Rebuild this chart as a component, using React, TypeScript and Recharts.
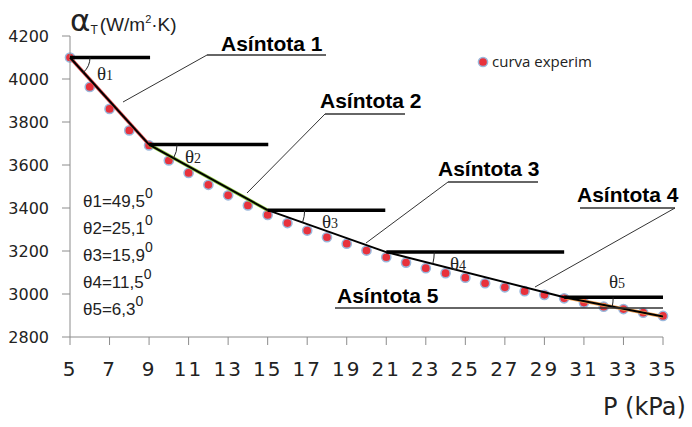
import React from 'react';
import {
  ComposedChart,
  Scatter,
  XAxis,
  YAxis,
  ReferenceLine,
  ReferenceDot,
} from 'recharts';

// pressure P (kPa) and measured heat-transfer coefficient
const pressure = [5, 6, 7, 8, 9, 10, 11, 12, 13, 14, 15, 16, 17, 18, 19, 20, 21, 22, 23, 24, 25, 26, 27, 28, 29, 30, 31, 32, 33, 34, 35];
const alphaT = [4100, 3963, 3861, 3761, 3691, 3621, 3563, 3508, 3459, 3412, 3368, 3330, 3295, 3264, 3234, 3202, 3171, 3146, 3120, 3097, 3076, 3050, 3031, 3013, 2996, 2980, 2960, 2941, 2930, 2913, 2898];

// asymptote break points and their horizontal references
const vertexP = [5, 9, 15, 21, 30, 35];
const vertexA = [4100, 3695, 3390, 3195, 2985, 2895];
const horizEnd = [9.05, 15.03, 20.95, 30, 35];
const thetaValues = ['49,5', '25,1', '15,9', '11,5', '6,3'];

const xTicks = [5, 7, 9, 11, 13, 15, 17, 19, 21, 23, 25, 27, 29, 31, 33, 35];
const yTicks = [2800, 3000, 3200, 3400, 3600, 3800, 4000, 4200];

const W = 692;
const H = 427;
const PLOT_W = 593;
const PLOT_H = 301;
const PX_X = PLOT_W / 30;
const PX_Y = PLOT_H / 1400;
const AXIS = '#8c8c8c';
const arcRadius = [20, 28, 37, 48, 49];
const tint = ['#e05050', '#8cc63f', null, null, '#f0a050'];

const points = pressure.map((p, i) => ({ p, a: alphaT[i] }));

const Marker = (props: any) => (
  <circle cx={props.cx} cy={props.cy} r={4.6} fill="#e8323c" stroke="#9ab8dc" strokeWidth={1.5} />
);

const makeArc = (i: number) => (props: any) => {
  const { cx, cy } = props;
  const dx = (vertexP[i + 1] - vertexP[i]) * PX_X;
  const dy = (vertexA[i] - vertexA[i + 1]) * PX_Y;
  const ang = Math.atan2(dy, dx);
  const r = arcRadius[i];
  const x2 = cx + r * Math.cos(ang);
  const y2 = cy + r * Math.sin(ang);
  return <path d={`M${cx + r},${cy} A${r},${r} 0 0 1 ${x2},${y2}`} fill="none" stroke="#222" strokeWidth={1} />;
};

const labels = [
  { t: 'Asíntota 1', x: 221, y: 51 },
  { t: 'Asíntota 2', x: 320, y: 108 },
  { t: 'Asíntota 3', x: 438, y: 176 },
  { t: 'Asíntota 4', x: 577, y: 202 },
  { t: 'Asíntota 5', x: 337, y: 303 },
];

const leaders = [
  [207, 55, 326, 55], [207, 55, 123, 102],
  [325, 114, 405, 114], [325, 114, 247, 193],
  [448, 182, 538, 182], [448, 182, 366, 243],
  [580, 208, 675, 208], [675, 208, 535, 287],
  [335, 308, 663, 308],
];

const thetaMarks = [
  { x: 97, y: 80 }, { x: 185, y: 163 }, { x: 322, y: 228 }, { x: 450, y: 270 }, { x: 609, y: 288 },
];

export default function App() {
  return (
    <div style={{ position: 'absolute', left: 0, top: 0, width: W, height: H, background: '#fff' }}>
      <ComposedChart width={W} height={H} data={points} margin={{ top: 36, right: 29, bottom: 0, left: 0 }}>
        <XAxis
          dataKey="p"
          type="number"
          domain={[5, 35]}
          ticks={xTicks}
          interval={0}
          height={90}
          stroke={AXIS}
          tickSize={8}
          tickMargin={17}
          tick={{ fill: '#222', fontSize: 20, fontFamily: 'DejaVu Sans', letterSpacing: 2 }}
        />
        <YAxis
          dataKey="a"
          type="number"
          domain={[2800, 4200]}
          ticks={yTicks}
          interval={0}
          width={70}
          stroke={AXIS}
          tickSize={8}
          tickMargin={13}
          tick={{ fill: '#222', fontSize: 16, fontFamily: 'DejaVu Sans' }}
        />
        <Scatter dataKey="a" fill="#e8323c" shape={<Marker />} isAnimationActive={false} zIndex={100} />
        {vertexP.slice(0, 5).map((p, i) =>
          tint[i] ? (
            <ReferenceLine
              key={`tint-${i}`}
              segment={[{ x: p, y: vertexA[i] }, { x: vertexP[i + 1], y: vertexA[i + 1] }]}
              stroke={tint[i] as string}
              strokeWidth={3.4}
              zIndex={900}
            />
          ) : null
        )}
        {vertexP.slice(0, 5).map((p, i) => (
          <ReferenceLine
            key={`slope-${i}`}
            segment={[{ x: p, y: vertexA[i] }, { x: vertexP[i + 1], y: vertexA[i + 1] }]}
            stroke="#000"
            strokeWidth={2}
            zIndex={950}
          />
        ))}
        {vertexP.slice(0, 5).map((p, i) => (
          <ReferenceLine
            key={`horiz-${i}`}
            segment={[{ x: p, y: vertexA[i] }, { x: horizEnd[i], y: vertexA[i] }]}
            stroke="#000"
            strokeWidth={3.5}
            zIndex={960}
          />
        ))}
        {vertexP.slice(0, 5).map((p, i) => (
          <ReferenceDot key={`arc-${i}`} x={p} y={vertexA[i]} r={0} shape={makeArc(i)} zIndex={970} />
        ))}
      </ComposedChart>

      <svg width={W} height={H} style={{ position: 'absolute', left: 0, top: 0, pointerEvents: 'none' }}>
        {/* y axis title */}
        <text x={70} y={31} fill="#222">
          <tspan fontFamily="DejaVu Sans" fontSize={31}>α</tspan>
          <tspan fontFamily="Liberation Sans" fontSize={12} dy={3}>T</tspan>
          <tspan fontFamily="Liberation Sans" fontSize={19} dy={-3} dx={2}>(W/m</tspan>
          <tspan fontFamily="Liberation Sans" fontSize={11} dy={-8}>2</tspan>
          <tspan fontFamily="Liberation Sans" fontSize={19} dy={8}>·K)</tspan>
        </text>
        <text x={603} y={415} fontFamily="DejaVu Sans" fontSize={24} fill="#222">P (kPa)</text>

        {/* legend */}
        <circle cx={483} cy={62} r={4.6} fill="#e8323c" stroke="#9ab8dc" strokeWidth={1.5} />
        <text x={492} y={67} fontFamily="Open Sans" fontSize={15} fill="#222">curva experim</text>

        {leaders.map((l, i) => (
          <line key={i} x1={l[0]} y1={l[1]} x2={l[2]} y2={l[3]} stroke="#333" strokeWidth={i % 2 === 0 || i === 8 ? 1.4 : 1} />
        ))}
        {labels.map((l) => (
          <text key={l.t} x={l.x} y={l.y} fontFamily="Liberation Sans" fontWeight="bold" fontSize={21} fill="#000">
            {l.t}
          </text>
        ))}
        {thetaMarks.map((m, i) => (
          <text key={i} x={m.x} y={m.y} fontFamily="Liberation Serif" fill="#222">
            <tspan fontSize={19}>θ</tspan>
            <tspan fontSize={14}>{i + 1}</tspan>
          </text>
        ))}
        {thetaValues.map((v, i) => (
          <text key={v} x={83} y={207 + i * 27} fontFamily="Liberation Sans" fontSize={17} fill="#222">
            <tspan>{`θ${i + 1}=${v}`}</tspan>
            <tspan fontSize={14} dy={-9}>0</tspan>
          </text>
        ))}
      </svg>
    </div>
  );
}
